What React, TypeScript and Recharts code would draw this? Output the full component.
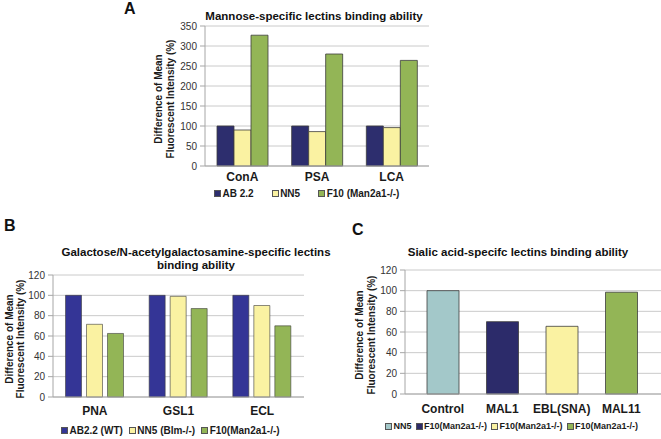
import { BarChart, Bar, XAxis, YAxis, CartesianGrid, Legend, Cell } from 'recharts'

const FONT = '"Liberation Sans", Arial, sans-serif'

// panel A - mannose-specific lectins
const catsA = ['ConA', 'PSA', 'LCA']
const ab22A = [100, 100, 100]
const nn5A = [90, 86, 96]
const f10A = [327, 280, 264]
const ticksA = [0, 50, 100, 150, 200, 250, 300, 350]
const namesA = ['AB 2.2', 'NN5', 'F10 (Man2a1-/-)']

// panel B - Gal/GalNAc-specific lectins
const catsB = ['PNA', 'GSL1', 'ECL']
const ab22B = [100, 100, 100]
const nn5B = [71.5, 99, 90]
const f10B = [62.5, 87, 70]
const ticksB = [0, 20, 40, 60, 80, 100, 120]
const namesB = ['AB2.2 (WT)', 'NN5 (Blm-/-)', 'F10(Man2a1-/-)']

// panel C - sialic acid-specific lectins
const catsC = ['Control', 'MAL1', 'EBL(SNA)', 'MAL11']
const valsC = [100, 70, 65.5, 98.5]
const namesC = ['NN5', 'F10(Man2a1-/-)', 'F10(Man2a1-/-)', 'F10(Man2a1-/-)']
const ticksC = [0, 20, 40, 60, 80, 100, 120]

const colorsA = ['#2d2e6e', '#faf2a2', '#93b556']
const colorsB = ['#343596', '#faf2a2', '#93b556']
const colorsC = ['#a3c8c9', '#2c2b6a', '#faf2a2', '#93b556']

const dataA = catsA.map((c, i) => ({ cat: c, ab: ab22A[i], nn5: nn5A[i], f10: f10A[i] }))
const dataB = catsB.map((c, i) => ({ cat: c, ab: ab22B[i], nn5: nn5B[i], f10: f10B[i] }))
const dataC = catsC.map((c, i) => ({ cat: c, v: valsC[i] }))

const AXIS = '#a6a6a6'
const GRID = '#cacaca'
const BAR_STROKE = '#3c3c3c'

const yTick = { fontSize: 10, fill: '#333', fontFamily: FONT }
const xTick = { fontSize: 12, fill: '#1a1a1a', fontWeight: 'bold', fontFamily: FONT }

function YLabel(props: any) {
  const { viewBox, x1, x2 } = props
  const cy = viewBox.y + viewBox.height / 2 + 3
  return (
    <g fontFamily={FONT} fontSize={10} fontWeight="bold" fill="#1a1a1a">
      <text transform={`translate(${x1},${cy}) rotate(-90)`} textAnchor="middle" dominantBaseline="central"
        style={{ fontSize: '10px' }}>
        Difference of Mean
      </text>
      <text transform={`translate(${x2},${cy}) rotate(-90)`} textAnchor="middle" dominantBaseline="central"
        style={{ fontSize: '10px' }}>
        Fluorescent Intensity (%)
      </text>
    </g>
  )
}

function LegendRow({ names, colors, padLeft, gap, fontSize }: any) {
  return (
    <div style={{
      display: 'flex', alignItems: 'center', height: 14, paddingLeft: padLeft, gap,
      fontFamily: FONT, fontSize, fontWeight: 'bold', color: '#1a1a1a', whiteSpace: 'nowrap',
    }}>
      {names.map((n: string, i: number) => (
        <span key={i} style={{ display: 'flex', alignItems: 'center' }}>
          <span style={{ width: 5, height: 5, background: colors[i], border: '0.5px solid #555', marginRight: 1.5 }} />
          {n}
        </span>
      ))}
    </div>
  )
}

const titleStyle: any = {
  position: 'absolute', transform: 'translateX(-50%)', whiteSpace: 'nowrap', textAlign: 'center',
  fontFamily: FONT, fontSize: 11.5, fontWeight: 'bold', lineHeight: '13px', color: '#111',
}
const letterStyle: any = {
  position: 'absolute', fontFamily: FONT, fontSize: 16, fontWeight: 'bold', lineHeight: '16px', color: '#111',
}

export default function App() {
  return (
    <div style={{ position: 'absolute', left: 0, top: 0, width: 661, height: 439, background: '#fff', overflow: 'hidden' }}>
      <div style={{ ...letterStyle, left: 124, top: 1 }}>A</div>
      <div style={{ ...letterStyle, left: 4, top: 218 }}>B</div>
      <div style={{ ...letterStyle, left: 352, top: 222 }}>C</div>

      <div style={{ ...titleStyle, left: 314, top: 9.6 }}>Mannose-specific lectins binding ability</div>
      <div style={{ ...titleStyle, left: 196, top: 245.6 }}>
        Galactose/N-acetylgalactosamine-specific lectins<br />binding ability
      </div>
      <div style={{ ...titleStyle, left: 518, top: 245.6 }}>Sialic acid-specifc lectins binding ability</div>

      {/* A */}
      <div style={{ position: 'absolute', left: 140, top: 0 }}>
        <BarChart width={300} height={204} data={dataA} margin={{ top: 26, right: 11, left: 0, bottom: 4 }}
          barCategoryGap={12} barGap={0}>
          <CartesianGrid vertical={false} stroke={GRID} />
          <XAxis dataKey="cat" height={20} tickLine={false} tickSize={0} tickMargin={6} axisLine={{ stroke: AXIS }} tick={xTick} />
          <YAxis width={65} domain={[0, 350]} ticks={ticksA} interval={0} tickSize={5} tickMargin={3}
            axisLine={{ stroke: AXIS }} tickLine={{ stroke: AXIS }} tick={yTick}
            label={<YLabel x1={18} x2={30} />} />
          <Legend verticalAlign="bottom" wrapperStyle={{ left: 0, width: 300 }}
            content={() => <LegendRow names={namesA} colors={colorsA} padLeft={74} gap={18} fontSize={10} />} />
          <Bar dataKey="ab" fill={colorsA[0]} stroke={BAR_STROKE} strokeWidth={0.8} isAnimationActive={false} />
          <Bar dataKey="nn5" fill={colorsA[1]} stroke={BAR_STROKE} strokeWidth={0.8} isAnimationActive={false} />
          <Bar dataKey="f10" fill={colorsA[2]} stroke={BAR_STROKE} strokeWidth={0.8} isAnimationActive={false} />
        </BarChart>
      </div>

      {/* B */}
      <div style={{ position: 'absolute', left: 0, top: 240 }}>
        <BarChart width={340} height={199} data={dataB} margin={{ top: 35, right: 36, left: 0, bottom: 2 }}
          barCategoryGap={12.5} barGap={5}>
          <CartesianGrid vertical={false} stroke={GRID} />
          <XAxis dataKey="cat" height={26} tickLine={false} tickSize={0} tickMargin={9} axisLine={{ stroke: AXIS }} tick={xTick} />
          <YAxis width={53} domain={[0, 120]} ticks={ticksB} interval={0} tickSize={5} tickMargin={3}
            axisLine={{ stroke: AXIS }} tickLine={{ stroke: AXIS }} tick={yTick}
            label={<YLabel x1={9} x2={20} />} />
          <Legend verticalAlign="bottom" wrapperStyle={{ left: 0, width: 340 }}
            content={() => <LegendRow names={namesB} colors={colorsB} padLeft={61} gap={6} fontSize={10} />} />
          <Bar dataKey="ab" fill={colorsB[0]} stroke={BAR_STROKE} strokeWidth={0.6} isAnimationActive={false} />
          <Bar dataKey="nn5" fill={colorsB[1]} stroke={BAR_STROKE} strokeWidth={0.6} isAnimationActive={false} />
          <Bar dataKey="f10" fill={colorsB[2]} stroke={BAR_STROKE} strokeWidth={0.6} isAnimationActive={false} />
        </BarChart>
      </div>

      {/* C */}
      <div style={{ position: 'absolute', left: 345, top: 240 }}>
        <BarChart width={316} height={199} data={dataC} margin={{ top: 30, right: 0, left: 0, bottom: 6 }}
          barCategoryGap={14}>
          <CartesianGrid vertical={false} stroke={GRID} />
          <XAxis dataKey="cat" height={25} tickLine={false} tickSize={0} tickMargin={10} padding={{ left: 8, right: 10 }}
            axisLine={{ stroke: AXIS }} tick={xTick} />
          <YAxis width={60} domain={[0, 120]} ticks={ticksC} interval={0} tickSize={5} tickMargin={3}
            axisLine={{ stroke: AXIS }} tickLine={{ stroke: AXIS }} tick={yTick}
            label={<YLabel x1={14} x2={26} />} />
          <Legend verticalAlign="bottom" wrapperStyle={{ left: 0, width: 316 }}
            content={() => <LegendRow names={namesC} colors={colorsC} padLeft={40} gap={4} fontSize={9} />} />
          <Bar dataKey="v" stroke={BAR_STROKE} strokeWidth={0.8} isAnimationActive={false}>
            {dataC.map((d, i) => <Cell key={d.cat} fill={colorsC[i]} />)}
          </Bar>
        </BarChart>
      </div>
    </div>
  )
}
